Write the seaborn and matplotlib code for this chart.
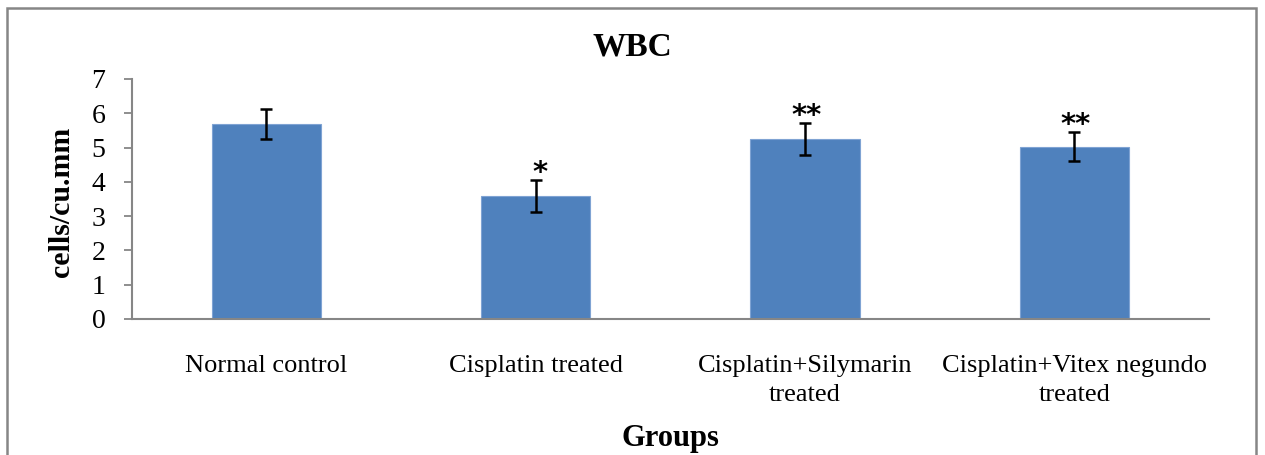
import matplotlib
matplotlib.use("Agg")
import matplotlib.pyplot as plt
from matplotlib.patches import Rectangle
import seaborn as sns
import pandas as pd

# WBC counts per treatment group (mean ± error)
groups = ["Normal control", "Cisplatin treated",
          "Cisplatin+Silymarin\ntreated", "Cisplatin+Vitex negundo\ntreated"]
wbc_mean = [5.68, 3.58, 5.25, 5.03]
wbc_err = [0.44, 0.47, 0.47, 0.43]
significance = ["", "*", "**", "**"]
y_ticks = [0, 1, 2, 3, 4, 5, 6, 7]

sns.set_theme(style="white")
plt.rcParams["font.family"] = ["Liberation Serif", "DejaVu Serif"]
plt.rcParams.update({"text.color": "black", "axes.labelcolor": "black",
                     "xtick.color": "black", "ytick.color": "black"})

df = pd.DataFrame({"group": groups, "wbc": wbc_mean})

fig = plt.figure(figsize=(12.65, 4.55), dpi=100)
ax = fig.add_axes([131.7 / 1265, 1 - 319 / 455, (1209 - 131.7) / 1265, 240 / 455])

sns.barplot(data=df, x="group", y="wbc", ax=ax, color="#4F81BD",
            saturation=1, width=0.405, errorbar=None,
            edgecolor="#7FA3D3", linewidth=0.8)

centers = [p.get_x() + p.get_width() / 2 for p in ax.patches]
ax.errorbar(centers, wbc_mean, yerr=wbc_err, fmt="none", ecolor="black",
            elinewidth=1.8, capsize=4.6, capthick=1.8)

for x, m, e, s in zip(centers, wbc_mean, wbc_err, significance):
    if s:
        ax.annotate(s, xy=(x, m + e), xytext=(3 if len(s) == 1 else 1, -5),
                    textcoords="offset points", ha="center", va="bottom",
                    fontsize=21, fontweight="bold", family="DejaVu Sans")

ax.set_xlim(-0.5, 3.5)
ax.set_ylim(0, 7)
ax.set_yticks(y_ticks)

axis_grey = "#868686"
for side in ["top", "right"]:
    ax.spines[side].set_visible(False)
for side in ["left", "bottom"]:
    ax.spines[side].set_color(axis_grey)
    ax.spines[side].set_linewidth(1.5)

ax.tick_params(axis="y", direction="out", length=6, width=1.3, color=axis_grey,
               labelcolor="black", labelsize=20, pad=13, left=True)
ax.tick_params(axis="x", length=0, labelsize=19, pad=26, labelcolor="black")
for lbl in ax.get_xticklabels():
    lbl.set_linespacing(1.4)

ax.set_xlabel("Groups", fontsize=22, fontweight="bold", va="center")
ax.xaxis.set_label_coords(0.5, -0.496)
ax.set_ylabel("cells/cu.mm", fontsize=21.5, fontweight="bold", va="center")
ax.yaxis.set_label_coords((62 - 131.7) / 1077.3, 0.4875)

fig.text(0.5, 1 - 47 / 455, "WBC", ha="center", va="center",
         fontsize=24, fontweight="bold")

# chart-area frame
fig.patches.append(Rectangle((7.5 / 1265, -0.05), (1256 - 7.5) / 1265, 1.05 - 8.5 / 455,
                             transform=fig.transFigure, fill=False,
                             edgecolor=axis_grey, linewidth=1.8))

fig.savefig("out.png", dpi=100)
